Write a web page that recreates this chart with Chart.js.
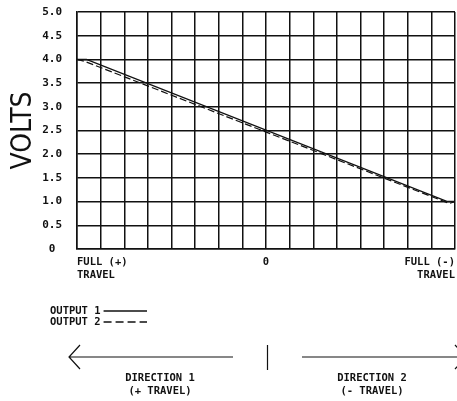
<!DOCTYPE html>
<html>
<head>
<meta charset="utf-8">
<script src="https://cdn.jsdelivr.net/npm/chart.js@4.4.1/dist/chart.umd.min.js"></script>
<style>
  html, body { margin: 0; padding: 0; background: #fff; }
  #wrap { width: 457px; height: 401px; }
</style>
</head>
<body>
<div id="wrap"><canvas id="voltsChart"></canvas></div>
<script>
// travel position: -100 = full (+) travel, 0 = centre, 100 = full (-) travel
const travel1 = [-100, -95, 96, 100];
const output1 = [4.0, 4.0, 1.0, 1.0];
const travel2 = [-100, -96, 97, 100];
const output2 = [4.0, 3.96, 0.96, 1.0];

const seriesNames = ['OUTPUT 1', 'OUTPUT 2'];
const yTickLabels = ['0', '0.5', '1.0', '1.5', '2.0', '2.5', '3.0', '3.5', '4.0', '4.5', '5.0'];
const xTickValues = [-100, 0, 100];
const xTickLabels = [['FULL (+)', 'TRAVEL'], '0', ['FULL (-)', 'TRAVEL']];
const directionLabels = [['DIRECTION 1', '(+ TRAVEL)'], ['DIRECTION 2', '(- TRAVEL)']];

const ink = '#111';
const cadFont = { family: '"DejaVu Sans Mono", monospace', size: 10.5, weight: 'bold' };

const toPoints = (xs, ys) => xs.map((x, i) => ({ x: x, y: ys[i] }));

// legend + travel arrows under the graph
const travelNotes = {
  id: 'travelNotes',
  afterDraw(chart) {
    const c = chart.ctx;
    const xs = chart.scales.x;
    const mid = xs.getPixelForValue(0);
    const w = chart.width;
    c.save();
    c.fillStyle = ink;
    c.strokeStyle = ink;
    c.font = 'bold 10.5px "DejaVu Sans Mono", monospace';
    c.textBaseline = 'middle';

    // legend
    chart.data.datasets.forEach((ds, i) => {
      const y = 311 + i * 11;
      c.textAlign = 'left';
      c.fillText(ds.label, 50, y);
      const tw = c.measureText(ds.label).width;
      c.lineWidth = 1.3;
      c.setLineDash(ds.borderDash ? [8, 4] : []);
      c.beginPath();
      c.moveTo(50 + tw + 3, y);
      c.lineTo(147, y);
      c.stroke();
    });
    c.setLineDash([]);

    // arrows
    const ay = 357;
    c.lineWidth = 1.2;
    c.beginPath();
    c.moveTo(69, ay); c.lineTo(mid - 33, ay);
    c.moveTo(80, ay - 12); c.lineTo(69, ay); c.lineTo(80, ay + 12);
    c.moveTo(mid + 1.5, ay - 12); c.lineTo(mid + 1.5, ay + 13);
    c.moveTo(mid + 36, ay); c.lineTo(w + 9, ay);
    c.moveTo(w - 2, ay - 12); c.lineTo(w + 9, ay); c.lineTo(w - 2, ay + 12);
    c.stroke();

    c.textAlign = 'center';
    const centres = [160, 372];
    directionLabels.forEach((lines, i) => {
      lines.forEach((t, j) => c.fillText(t, centres[i], 378 + j * 13));
    });
    c.restore();
  }
};

new Chart(document.getElementById('voltsChart'), {
  type: 'line',
  data: {
    datasets: [
      {
        label: seriesNames[0],
        data: toPoints(travel1, output1),
        borderColor: ink,
        borderWidth: 1.5,
        pointRadius: 0,
        fill: false,
      },
      {
        label: seriesNames[1],
        data: toPoints(travel2, output2),
        borderColor: ink,
        borderWidth: 1.2,
        borderDash: [7, 3],
        pointRadius: 0,
        fill: false,
      },
    ],
  },
  plugins: [travelNotes],
  options: {
    responsive: true,
    maintainAspectRatio: false,
    animation: false,
    layout: { padding: { top: 12, right: 2, bottom: 112, left: 0 } },
    plugins: {
      legend: { display: false },
      tooltip: { enabled: false },
    },
    scales: {
      x: {
        type: 'linear',
        min: -100,
        max: 100,
        afterFit(scale) {
          scale.height = 40;
          scale.paddingLeft = 0;
          scale.paddingRight = 0;
        },
        grid: { color: ink, lineWidth: 1.5, drawTicks: false },
        border: { color: ink, width: 1.5 },
        ticks: {
          stepSize: 12.5,
          autoSkip: false,
          maxRotation: 0,
          align: 'inner',
          padding: 7,
          color: ink,
          font: cadFont,
          callback: (v) => {
            const k = xTickValues.indexOf(v);
            return k < 0 ? '' : xTickLabels[k];
          },
        },
      },
      y: {
        min: 0,
        max: 5,
        afterFit(scale) {
          scale.width = 77;
          scale.paddingTop = 0;
          scale.paddingBottom = 0;
        },
        grid: { color: ink, lineWidth: 1.5, drawTicks: false },
        border: { color: ink, width: 1.5 },
        title: {
          display: true,
          text: 'VOLTS',
          color: ink,
          font: { family: '"DejaVu Sans Condensed", "Liberation Sans", Arial', size: 28 },
          padding: { top: 7, bottom: 0 },
        },
        ticks: {
          stepSize: 0.5,
          crossAlign: 'center',
          padding: 15,
          color: ink,
          font: { family: '"DejaVu Sans Mono", monospace', size: 11, weight: 'bold' },
          callback: (v, i) => yTickLabels[i],
        },
      },
    },
  },
});
</script>
</body>
</html>
